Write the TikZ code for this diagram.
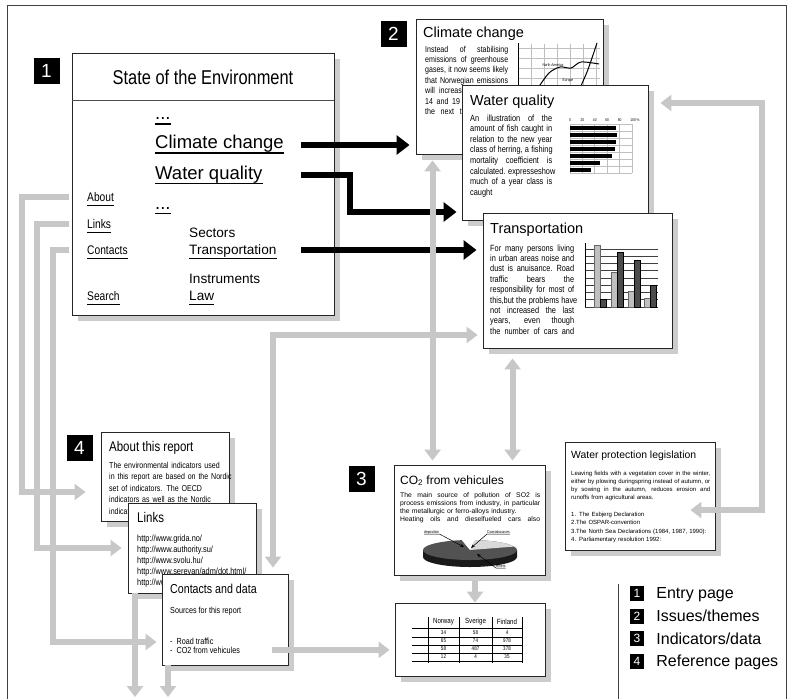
\documentclass[tikz,border=0pt]{standalone}
\usepackage{fontspec}
\setmainfont{Liberation Sans}
\newfontfamily\narrowfont[FakeStretch=0.82]{Liberation Sans}
\usetikzlibrary{arrows.meta,shadows,calc}
\definecolor{shadegray}{gray}{0.80}
\definecolor{linkgray}{gray}{0.78}
\definecolor{framegray}{gray}{0.25}
\newcommand\jline[1]{\hbox to \linewidth{\spaceskip=0.25em plus 1fil\xspaceskip=0.3em plus 1fil\relax #1}\par}

\begin{document}
\begin{tikzpicture}[x=1pt,y=-1pt,
  page/.style={draw=black!85,line width=0.9pt,fill=white,inner sep=0pt,
    drop shadow={shadow xshift=6pt,shadow yshift=-6pt,fill=shadegray,opacity=1}},
  numbox/.style={fill=black,text=white,inner sep=0pt,minimum width=26pt,minimum height=26pt,font=\fontsize{19}{19}\selectfont},
  keybox/.style={fill=black,text=white,inner sep=0pt,minimum width=14pt,minimum height=15pt,font=\fontsize{12}{12}\selectfont},
  menu/.style={anchor=base west,inner sep=0pt},
  head/.style={anchor=base west,inner sep=0pt,font=\fontsize{14.5}{14.5}\selectfont},
  body/.style={anchor=base west,inner sep=0pt,align=left},
  tiny/.style={inner sep=0pt,font=\narrowfont\fontsize{4}{4}\selectfont},
  uline/.style={line width=1.6pt},
  blink/.style={line width=6pt,-{Triangle[width=19pt,length=13pt]}},
  glink/.style={draw=linkgray,line width=6pt,-{Triangle[width=16pt,length=11pt]}},
  glinks/.style={draw=linkgray,line width=6pt,{Triangle[width=16pt,length=11pt]}-{Triangle[width=16pt,length=11pt]}}]
\useasboundingbox (0,0) rectangle (792,699);
\draw[framegray,line width=1pt] (7,699) -- (7,5) -- (786,5) -- (786,699);

% 1 entry page
\node[numbox] (n1) at (46.5,71) {1};
\node[page,minimum width=262pt,minimum height=262pt] (entry) at (203,184) {};
\coordinate (eSep) at (0,100);
\draw[black!70,line width=0.7pt] (entry.west |- eSep) -- (entry.east |- eSep);
\node[inner sep=0pt,font=\narrowfont\fontsize{20}{20}\selectfont] (eTitle) at (203,77) {State of the Environment};
\begin{scope}[every node/.append style={font=\fontsize{18.5}{18.5}\selectfont}]
  \node[menu] (lDotsA) at (155,119.5) {...};
  \node[menu] (lClim) at (155,148.5) {Climate change};
  \node[menu] (lWater) at (155,179) {Water quality};
  \node[menu] (lDotsB) at (155,209) {...};
\end{scope}
\begin{scope}[every node/.append style={font=\narrowfont\fontsize{12.5}{12.5}\selectfont}]
  \node[menu] (lAbout) at (87,201) {About};
  \node[menu] (lLinks) at (87,228) {Links};
  \node[menu] (lContacts) at (87,254) {Contacts};
  \node[menu] (lSearch) at (87,300) {Search};
\end{scope}
\begin{scope}[every node/.append style={font=\fontsize{13.6}{13.6}\selectfont}]
  \node[menu] (lSectors) at (189,237) {Sectors};
  \node[menu] (lTrans) at (189,254) {Transportation};
  \node[menu] (lInstr) at (189,283) {Instruments};
  \node[menu] (lLaw) at (189,300) {Law};
\end{scope}
\foreach \n in {lDotsA,lClim,lWater,lDotsB,lAbout,lLinks,lContacts,lSearch,lTrans,lLaw}
  \draw[uline] ([yshift=-4.5pt]\n.base west) -- ([yshift=-4.5pt]\n.base east);

% 2 issues
\node[numbox] (n2) at (393.5,33.5) {2};
\node[page,minimum width=187pt,minimum height=135pt] (clim) at (509.5,86.5) {};
\node[head] (climHead) at (423,37) {Climate change};
\node[body,text width=83pt,font=\narrowfont\fontsize{8.6}{10.4}\selectfont] (climTxt) at (425,52)
  {\jline{Instead of stabilising}\jline{emissions of greenhouse}\jline{gases, it now seems likely}\jline{that Norwegian emissions}\jline{will increase by between}\jline{14 and 19 per cent over}\jline{the next three decades}};
\foreach \gx in {518,531,544,557,570,583,596}
  \draw[black!25,line width=0.6pt] (\gx,44) -- (\gx,150);
\foreach \gy in {48,58,68,78,88}
  \draw[black!25,line width=0.6pt] (518,\gy) -- (600,\gy);
\draw[line width=0.6pt] (518,43) -- (518,150);
\draw[line width=1pt] plot[smooth] coordinates {(538,88) (549,73) (560,67) (571,68) (581,62) (599,64)};
\draw[line width=1pt] plot[smooth] coordinates {(580,88) (587,72) (592,58) (597,43)};
\node[tiny] at (553,65) {North America};
\node[tiny] at (568,81) {Europe};

\node[page,minimum width=186pt,minimum height=135pt] (water) at (555,152.5) {};
\node[head] (waterHead) at (470,105) {Water quality};
\node[body,text width=82pt,font=\narrowfont\fontsize{9}{10.6}\selectfont] (waterTxt) at (470,121)
  {\jline{An illustration of the}\jline{amount of fish caught in}\jline{relation to the new year}\jline{class of herring, a fishing}\jline{mortality coefficient is}\jline{calculated. expresseshow}\jline{much of a year class is}caught};
\foreach \gx in {570,582.4,594.8,607.2,619.6,632}
  \draw[black!25,line width=1pt] (\gx,124) -- (\gx,173);
\foreach \gy in {124,131.5,138.5,145.5,152.5,159.5,166.5,173}
  \draw[black!25,line width=1pt] (570,\gy) -- (632,\gy);
\foreach \by/\bl in {128/0.74,135/0.76,142/0.74,149/0.72,156/0.68,163/0.48,170/0.34}
  \fill (570,\by-2.3) rectangle (570+62*\bl,\by+2.3);
\foreach \gx/\gl in {570/0,582.4/20,594.8/40,607.2/60,619.6/80}
  \node[tiny] at (\gx,120) {\gl};
\node[tiny] at (635,120) {100 \%};

\node[page,minimum width=189pt,minimum height=135pt] (trans) at (577.5,280.5) {};
\node[head] (transHead) at (490,233) {Transportation};
\node[body,text width=84pt,font=\narrowfont\fontsize{9}{10.4}\selectfont] (transTxt) at (490,251)
  {\jline{For many persons living}\jline{in urban areas noise and}\jline{dust is anuisance. Road}\jline{traffic bears the}\jline{responsibility for most of}\jline{this,but the problems have}\jline{not increased the last}\jline{years, even though}\jline{the number of cars and}};
\foreach \gy in {249,256.25,263.5,270.75,278,285.25,292.5,299.75,307}
  \draw[black!75,line width=0.9pt] (585,\gy) -- (658,\gy);
\draw[line width=0.8pt] (585,243) -- (585,307);
\foreach \bx/\lt/\dt in {594/245/299,611/272/252,628/291/260,644/298/285} {
  \filldraw[fill=black!25,draw=black!60,line width=0.4pt] (\bx,\lt) rectangle (\bx+6,307);
  \filldraw[fill=black!70,draw=black,line width=0.4pt] (\bx+6,\dt) rectangle (\bx+12,307);
}

% 4 reference pages
\node[numbox] (n4) at (79.5,447.5) {4};
\node[page,minimum width=128pt,minimum height=89pt] (aboutpg) at (165,476.5) {};
\node[body,font=\narrowfont\fontsize{14}{14}\selectfont] (aboutHead) at (109,451) {About this report};
\node[body,text width=140pt,font=\narrowfont\fontsize{8.6}{11.5}\selectfont] (aboutTxt) at (109,468)
  {The environmental indicators used\\in this report are based on the Nordic\\set of indicators. The OECD\\indicators as well as the Nordic\\indicators are presented};

\node[page,minimum width=128pt,minimum height=90pt] (links) at (192,548) {};
\node[body,font=\narrowfont\fontsize{14}{14}\selectfont] (linksHead) at (137,522) {Links};
\node[body,text width=130pt,font=\narrowfont\fontsize{9}{11}\selectfont] (linksTxt) at (137,541)
  {http://www.grida.no/\\http://www.authority.su/\\http://www.svolu.hu/\\http://www.serevan/adm/dot.html/\\http://www.grida.no/};

\node[page,minimum width=126pt,minimum height=91pt] (contacts) at (225,619.5) {};
\node[body,font=\narrowfont\fontsize{13}{13}\selectfont] (contHead) at (170,593) {Contacts and data};
\begin{scope}[every node/.append style={font=\narrowfont\fontsize{8.8}{8.8}\selectfont}]
  \node[body] (cSrc) at (170,613) {Sources for this report};
  \node[body] (cItemA) at (170,644) {-\ \ Road traffic};
  \node[body] (cItemB) at (170,653) {-\ \ CO2 from vehicules};
\end{scope}

% 3 indicators
\node[numbox] (n3) at (361.5,478.5) {3};
\node[page,minimum width=151pt,minimum height=110pt] (co2) at (469.5,520) {};
\node[body,font=\fontsize{12}{12}\selectfont] (co2Head) at (400,484) {CO\textsubscript{2} from vehicules};
\node[body,text width=140pt,font=\fontsize{6.8}{8.1}\selectfont] (co2Txt) at (400,497.5)
  {\jline{The main source of pollution of SO2 is}\jline{process emissions from industry, in particular}the metallurgic or ferro-alloys industry.\par\jline{Heating oils and dieselfueled cars also}};
\begin{scope}[shift={(470,550)},yscale=-1]
  \fill[black!90] (-47,0) -- (-47,-7) arc[start angle=180,end angle=360,x radius=47,y radius=10] -- (47,0) -- cycle;
  \fill[black!68] (0,0) ellipse[x radius=47,y radius=10];
  \fill[black!15] (0,0) -- (20:47 and 10) arc[start angle=20,end angle=84,x radius=47,y radius=10] -- cycle;
  \fill[white] (0,0) -- (84:47 and 10) arc[start angle=84,end angle=100,x radius=47,y radius=10] -- cycle;
\end{scope}
\node[tiny,anchor=base west] (pDep) at (424,533) {deposition};
\node[tiny,anchor=base west] (pCoast) at (487,533) {Coastalsources};
\node[tiny,anchor=base west] (pRiv) at (496,567) {Rivers};
\coordinate (tDep) at (464,547);
\coordinate (tCoast) at (471,548);
\coordinate (tRiv) at (477,554);
\draw[line width=0.5pt,-{Stealth[length=4pt,width=3pt]}] ([yshift=-1pt]pDep.base west) -- ([yshift=-1pt]pDep.base east) -- (tDep);
\draw[line width=0.5pt,-{Stealth[length=4pt,width=3pt]}] ([yshift=-1pt]pCoast.base east) -- ([yshift=-1pt]pCoast.base west) -- (tCoast);
\draw[line width=0.5pt,-{Stealth[length=4pt,width=3pt]}] ([yshift=-1pt]pRiv.base east) -- ([yshift=-1pt]pRiv.base west) -- (tRiv);

\node[page,minimum width=150pt,minimum height=73pt] (table) at (470,639.5) {};
\foreach \ty in {628,637,645,653,661}
  \draw[line width=0.8pt] (412,\ty) -- (522,\ty);
\foreach \tx in {428,459,492,522}
  \draw[line width=0.8pt] (\tx,617) -- (\tx,663);
\begin{scope}[every node/.append style={inner sep=0pt,font=\narrowfont\fontsize{7.5}{7.5}\selectfont}]
  \node (hNo) at (443.5,622) {Norway};
  \node (hSv) at (475.5,622) {Sverige};
  \node (hFi) at (507,622) {Finland};
\end{scope}
\foreach \ry/\a/\b/\c in {632.5/34/58/4,641/65/74/978,649/58/487/378,657/12/4/35} {
  \node[inner sep=0pt,font=\narrowfont\fontsize{5.5}{5.5}\selectfont] at (443.5,\ry) {\a};
  \node[inner sep=0pt,font=\narrowfont\fontsize{5.5}{5.5}\selectfont] at (475.5,\ry) {\b};
  \node[inner sep=0pt,font=\narrowfont\fontsize{5.5}{5.5}\selectfont] at (507,\ry) {\c};
}

\node[page,minimum width=150pt,minimum height=108pt] (legis) at (640,496) {};
\node[body,font=\fontsize{10.4}{10.4}\selectfont] (legisHead) at (571,458) {Water protection legislation};
\node[body,text width=139pt,font=\fontsize{6}{8.3}\selectfont] (legisTxt) at (571,475)
  {\jline{Leaving fields with a vegetation cover in the winter,}\jline{either by plowing duringspring instead of autumn, or}\jline{by sowing in the autumn, reduces erosion and}runoffs from agricultural areas.\par\jline{}1. The Esbjerg Declaration\par 2.The OSPAR-convention\par 3.The North Sea Declarations (1984, 1987, 1990):\par 4. Parliamentary resolution 1992:\par};

% black links from the entry page
\coordinate (wBend) at (350,212);
\draw[blink,shorten >=6pt] ($(entry.east |- lClim.base)+(-33,-3.5)$) -- ($(clim.west |- lClim.base)+(0,-3.5)$);
\draw[blink,shorten >=5pt] ($(entry.east |- lWater.base)+(-33,-4)$) -| (wBend) -- (wBend -| water.west);
\draw[blink,shorten >=6pt] ($(entry.east |- lTrans.base)+(-33,-4)$) -- ($(trans.west |- lTrans.base)+(0,-4)$);

% grey links
\coordinate (bAbout) at (22,492);
\coordinate (bLinks) at (37,548);
\coordinate (bCont) at (53,642);
\coordinate (outA) at (135,697);
\coordinate (outB) at (168,697);
\coordinate (bTrans) at (273,335);
\coordinate (rTop) at (762,103);
\coordinate (rBot) at (762,510);
\draw[glink,shorten <=3pt,shorten >=15pt] (entry.west |- lAbout) -| (bAbout) -- (bAbout -| aboutpg.west);
\draw[glink,shorten <=3pt,shorten >=6pt] (entry.west |- lLinks) -| (bLinks) -- (bLinks -| links.west);
\draw[glink,shorten <=3pt,shorten >=5pt] (entry.west |- lContacts) -| (bCont) -- (bCont -| contacts.west);
\draw[glink] (links.south -| outA) -- (outA);
\draw[glink] (contacts.south -| outB) -- (outB);
\draw[glinks,shorten <=6pt,shorten >=5pt] (contacts.north -| bTrans) -- (bTrans) -- (bTrans -| trans.west);
\draw[glink,shorten >=5pt] ([xshift=-16pt]contacts.east |- cItemB) -- (cItemB -| table.west);
\draw[glinks,shorten <=6pt,shorten >=4pt] ([xshift=17pt]clim.south west) -- ([xshift=17pt]clim.south west |- co2.north);
\draw[glinks,shorten <=10pt,shorten >=4pt] ([xshift=30pt]trans.south west) -- ([xshift=30pt]trans.south west |- co2.north);
\draw[glink,shorten <=5pt] ([xshift=5.5pt]co2.south) -- ([xshift=5.5pt]co2.south |- table.north);
\draw[glinks,shorten <=12pt] (rTop -| water.east) -- (rTop) -- (rBot) -- ([xshift=-25pt]rBot -| legis.east);

% legend
\draw[framegray,line width=1pt] (618,584) -- (618,699);
\node[keybox] (k1) at (637,593) {1};
\node[keybox] (k2) at (637,616) {2};
\node[keybox] (k3) at (637,638.5) {3};
\node[keybox] (k4) at (637,661) {4};
\begin{scope}[every node/.append style={anchor=base west,inner sep=0pt,font=\fontsize{16}{16}\selectfont}]
  \node (t1) at ([xshift=12pt,yshift=-5.7pt]k1.east) {Entry page};
  \node (t2) at ([xshift=12pt,yshift=-5.7pt]k2.east) {Issues/themes};
  \node (t3) at ([xshift=12pt,yshift=-5.7pt]k3.east) {Indicators/data};
  \node (t4) at ([xshift=12pt,yshift=-5.7pt]k4.east) {Reference pages};
\end{scope}
\end{tikzpicture}
\end{document}
